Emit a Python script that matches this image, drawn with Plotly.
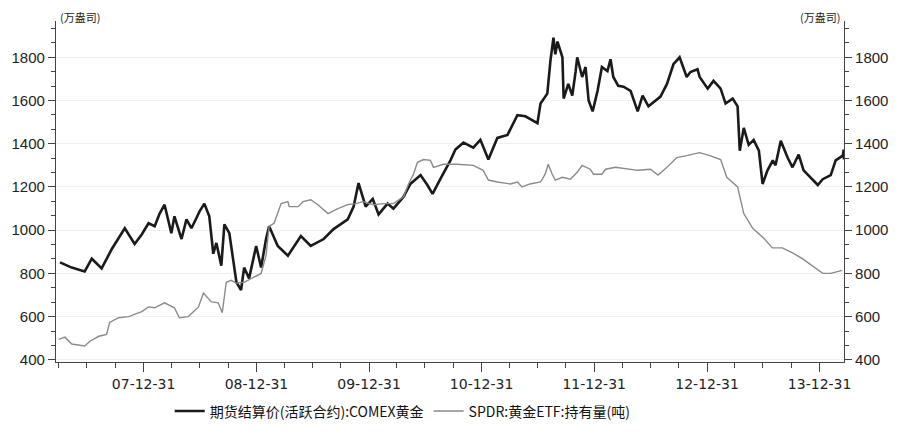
import plotly.graph_objects as go
import pandas as pd

# COMEX gold settlement price (active contract)
gold_dates = [
 "2007-04-04","2007-05-12","2007-06-23","2007-07-16","2007-08-17","2007-09-19","2007-10-31","2007-12-02","2007-12-25",
 "2008-01-16","2008-02-05","2008-02-21","2008-03-08","2008-03-30","2008-04-09","2008-05-02","2008-05-18","2008-06-03",
 "2008-06-19","2008-06-29","2008-07-15","2008-07-31","2008-08-13","2008-08-23","2008-09-08","2008-09-18","2008-10-04",
 "2008-10-17","2008-10-27","2008-11-11","2008-11-21","2008-12-07","2008-12-30",
 "2009-01-15","2009-01-31","2009-02-10","2009-03-10","2009-04-12","2009-05-24","2009-06-25","2009-08-06","2009-09-07",
 "2009-10-23","2009-11-11","2009-11-27","2009-12-20",
 "2010-01-12","2010-01-31","2010-03-01","2010-03-20","2010-04-22","2010-05-14","2010-06-16","2010-07-08","2010-07-25",
 "2010-08-19","2010-09-21","2010-10-07","2010-11-02","2010-12-04","2010-12-27",
 "2011-01-22","2011-02-20","2011-03-25","2011-04-26","2011-05-22","2011-06-30","2011-07-10","2011-08-01","2011-08-11",
 "2011-08-21","2011-08-27","2011-09-03","2011-09-19","2011-09-23","2011-10-08","2011-10-21","2011-11-01","2011-11-06",
 "2011-11-22","2011-12-03","2011-12-13","2011-12-26",
 "2012-01-11","2012-01-25","2012-02-12","2012-02-22","2012-03-02","2012-03-18","2012-04-04","2012-04-27","2012-05-20",
 "2012-06-05","2012-06-24","2012-07-17","2012-08-02","2012-08-23","2012-09-13","2012-10-03","2012-10-26","2012-11-07",
 "2012-11-30","2012-12-07","2012-12-17",
 "2013-01-02","2013-01-21","2013-02-13","2013-03-01","2013-03-24","2013-04-09","2013-04-12","2013-04-16","2013-04-29",
 "2013-05-15","2013-05-31","2013-06-17","2013-06-29","2013-07-15","2013-08-01","2013-08-10","2013-08-27","2013-09-18",
 "2013-10-04","2013-10-24","2013-11-09","2013-12-01","2013-12-25",
 "2014-01-10","2014-02-05","2014-02-21","2014-03-16","2014-03-19","2014-03-20"]
gold_values = [
 851,827,809,868,823,913,1009,936,980,
 1032,1018,1077,1118,986,1064,959,1050,1009,
 1055,1086,1123,1064,891,941,836,1027,986,
 845,759,723,827,777,927,
 827,959,1018,927,882,973,927,959,1005,
 1050,1109,1218,1109,
 1145,1073,1123,1100,1155,1214,1255,1209,1168,
 1236,1323,1373,1405,1382,1418,
 1327,1427,1441,1532,1527,1495,1586,1632,1782,
 1891,1814,1873,1800,1609,1677,1623,1736,1800,
 1709,1755,1600,1550,
 1645,1755,1736,1791,1709,1668,1664,1645,1550,
 1623,1573,1600,1618,1677,1768,1800,1709,1732,
 1745,1709,1686,
 1655,1691,1655,1586,1609,1573,1505,1368,1473,
 1395,1418,1368,1214,1277,1323,1300,1414,1336,
 1291,1350,1277,1245,1209,
 1236,1255,1323,1345,1373,1327]

# SPDR gold ETF holdings (tonnes)
spdr_dates = ["2007-03-31","2007-04-20","2007-05-12","2007-06-23","2007-07-10","2007-08-08","2007-09-02","2007-09-12",
 "2007-10-11","2007-11-13","2007-11-29","2007-12-25","2008-01-16","2008-02-05","2008-03-08","2008-04-09","2008-04-25",
 "2008-05-24","2008-06-26","2008-07-12","2008-08-07","2008-08-29","2008-09-11","2008-09-24","2008-10-10","2008-10-26",
 "2008-11-21","2008-12-14","2009-01-15","2009-01-31","2009-02-10","2009-02-26","2009-03-21","2009-04-12","2009-04-16",
 "2009-05-15","2009-05-31","2009-06-25","2009-07-18","2009-08-20","2009-09-21","2009-10-23","2009-11-18","2009-12-11",
 "2010-01-15","2010-02-16","2010-03-20","2010-04-22","2010-05-08","2010-05-24","2010-06-06","2010-06-26","2010-07-18",
 "2010-07-28","2010-08-29","2010-10-13","2010-12-04","2011-01-05","2011-01-22","2011-02-20","2011-04-03","2011-04-26",
 "2011-05-11","2011-06-06","2011-07-10","2011-07-25","2011-08-04","2011-08-17","2011-08-27","2011-09-19","2011-10-15",
 "2011-11-06","2011-11-22","2011-12-18","2011-12-29","2012-01-25","2012-02-06","2012-03-09","2012-04-16","2012-05-20",
 "2012-07-01","2012-07-25","2012-08-23","2012-09-24","2012-10-26","2012-12-07","2013-01-09","2013-02-13","2013-03-05",
 "2013-04-09","2013-04-29","2013-05-28","2013-07-02","2013-07-31","2013-09-01","2013-10-04","2013-11-05","2013-12-07",
 "2014-01-10","2014-02-05","2014-03-14"]
spdr_values = [495,505,473,464,486,509,518,573,
 595,600,609,623,645,641,664,641,595,
 600,645,709,668,664,618,759,768,755,
 759,777,800,882,1018,1032,1123,1132,1109,
 1109,1132,1141,1118,1077,1100,1118,1123,1132,
 1118,1123,1123,1155,1214,1259,1314,1327,1323,
 1291,1305,1305,1300,1277,1232,1223,1214,1223,
 1200,1214,1223,1259,1305,1259,1232,1245,1236,
 1268,1300,1282,1259,1259,1282,1291,1282,1277,
 1282,1255,1291,1336,1345,1359,1345,1327,1245,
 1200,1077,1009,964,918,918,895,868,836,
 800,800,814]

y_ticks = [400, 600, 800, 1000, 1200, 1400, 1600, 1800]
x_tickvals = ["2007-12-31","2008-12-31","2009-12-31","2010-12-31","2011-12-31","2012-12-31","2013-12-31"]
x_ticktext = ["07-12-31","08-12-31","09-12-31","10-12-31","11-12-31","12-12-31","13-12-31"]
gold_name = "期货结算价(活跃合约):COMEX黄金"
spdr_name = "SPDR:黄金ETF:持有量(吨)"
unit_label = "(万盎司)"

minor_x = [d.strftime("%Y-%m-%d") for d in pd.date_range("2007-03-31", "2014-03-31", freq="QE")]

fig = go.Figure()
fig.add_trace(go.Scatter(x=gold_dates, y=gold_values, mode="lines", name=gold_name,
                         line=dict(color="#1a1a1a", width=2.6), yaxis="y"))
fig.add_trace(go.Scatter(x=spdr_dates, y=spdr_values, mode="lines", name=spdr_name,
                         line=dict(color="#8a8a8a", width=1.4), yaxis="y2"))

yr = [390, 1968]
tickfont = dict(family="Liberation Sans, Arial, sans-serif", size=15, color="#222")
fig.update_layout(
    width=900, height=439,
    margin=dict(l=54, r=55, t=21, b=71),
    paper_bgcolor="white", plot_bgcolor="white",
    showlegend=True,
    legend=dict(orientation="h", x=0.44, xanchor="center", y=-0.145, yanchor="middle",
                font=dict(family="Noto Sans CJK SC", size=14, color="#111"),
                itemwidth=30, tracegroupgap=0),
    xaxis=dict(type="date", range=["2007-03-22", "2014-03-20"],
               tickmode="array", tickvals=x_tickvals, ticktext=x_ticktext,
               ticks="outside", ticklen=9, tickwidth=1.2, tickcolor="#444",
               showline=True, linecolor="#444", linewidth=1.2, showgrid=False, zeroline=False,
               tickfont=dict(family="DejaVu Sans", size=14, color="#222"),
               minor=dict(tickmode="array", tickvals=minor_x, ticks="outside", ticklen=5,
                          tickwidth=1, tickcolor="#444", showgrid=False)),
    yaxis=dict(range=yr, tickmode="array", tickvals=y_ticks, ticks="outside", ticklen=7,
               tickwidth=1.2, tickcolor="#444", showline=True, linecolor="#444", linewidth=1.2,
               showgrid=True, gridcolor="#f1f1f1", zeroline=False, tickfont=tickfont,
               minor=dict(dtick=200/3, tick0=400, ticks="outside", ticklen=4, tickcolor="#444",
                          showgrid=False)),
    yaxis2=dict(range=yr, overlaying="y", side="right", tickmode="array", tickvals=y_ticks,
                ticks="outside", ticklen=7, tickwidth=1.2, tickcolor="#444", showline=True,
                linecolor="#444", linewidth=1.2, showgrid=False, zeroline=False, tickfont=tickfont,
                minor=dict(dtick=200/3, tick0=400, ticks="outside", ticklen=4, tickcolor="#444")),
    annotations=[
        dict(text=unit_label, xref="paper", yref="paper", x=0.003, y=1.0, xanchor="left",
             yanchor="bottom", showarrow=False, yshift=-6,
             font=dict(family="Noto Sans CJK SC", size=11, color="#222")),
        dict(text=unit_label, xref="paper", yref="paper", x=0.997, y=1.0, xanchor="right",
             yanchor="bottom", showarrow=False, yshift=-6,
             font=dict(family="Noto Sans CJK SC", size=11, color="#222")),
    ],
)

fig.write_html("out.html")
